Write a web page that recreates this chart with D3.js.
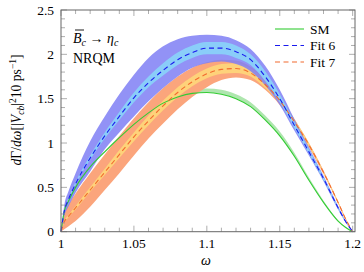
<!DOCTYPE html>
<html lang="en">
<head>
    <meta charset="UTF-8">
    <title>Bc to eta_c</title>
    <script src="https://d3js.org/d3.v7.min.js"></script>
    <style>
        body {margin: 0; background: white;}
    </style>
</head>
<body>
<script>
    const width = 364;
    const height = 272;

    // omega grid
    const w = [1.000, 1.0025, 1.005, 1.01, 1.02, 1.03, 1.04, 1.05, 1.06, 1.07, 1.08, 1.09,
               1.10, 1.11, 1.12, 1.13, 1.14, 1.15, 1.16, 1.17, 1.18, 1.19, 1.195, 1.20];

    // SM
    const sm     = [0, 0.245, 0.34, 0.50, 0.73, 0.90, 1.06, 1.21, 1.34, 1.45, 1.52, 1.56, 1.57, 1.55, 1.50, 1.41, 1.26, 1.08, 0.85, 0.58, 0.33, 0.12, 0.05, 0];
    const smHi   = [0, 0.25, 0.345, 0.505, 0.74, 0.91, 1.075, 1.23, 1.37, 1.48, 1.56, 1.60, 1.615, 1.60, 1.55, 1.46, 1.31, 1.13, 0.89, 0.61, 0.35, 0.13, 0.055, 0];

    // Fit 6
    const fit6     = [0, 0.25, 0.36, 0.54, 0.83, 1.08, 1.30, 1.51, 1.68, 1.82, 1.94, 2.02, 2.07, 2.07, 2.03, 1.94, 1.75, 1.50, 1.20, 0.90, 0.60, 0.27, 0.12, 0];
    const fit6Hi   = [0, 0.32, 0.45, 0.66, 1.02, 1.30, 1.55, 1.77, 1.96, 2.09, 2.17, 2.21, 2.22, 2.21, 2.16, 2.06, 1.87, 1.60, 1.27, 0.95, 0.63, 0.29, 0.13, 0];
    const fit6Lo   = [0, 0.19, 0.28, 0.44, 0.68, 0.93, 1.12, 1.30, 1.47, 1.62, 1.75, 1.85, 1.90, 1.92, 1.89, 1.81, 1.65, 1.43, 1.14, 0.86, 0.57, 0.25, 0.11, 0];
    const fit6InHi = [0, 0.26, 0.375, 0.56, 0.86, 1.12, 1.35, 1.57, 1.75, 1.90, 2.02, 2.10, 2.14, 2.14, 2.10, 2.00, 1.81, 1.55, 1.24, 0.93, 0.62, 0.28, 0.125, 0];
    const fit6InLo = [0, 0.24, 0.35, 0.53, 0.81, 1.05, 1.26, 1.46, 1.63, 1.76, 1.88, 1.96, 2.00, 2.00, 1.96, 1.88, 1.70, 1.46, 1.17, 0.88, 0.58, 0.26, 0.115, 0];

    // Fit 7
    const fit7     = [0, 0.12, 0.17, 0.27, 0.47, 0.67, 0.87, 1.07, 1.25, 1.42, 1.57, 1.69, 1.78, 1.83, 1.84, 1.79, 1.66, 1.48, 1.24, 0.98, 0.67, 0.33, 0.15, 0];
    const fit7Hi   = [0, 0.22, 0.30, 0.43, 0.66, 0.87, 1.08, 1.28, 1.46, 1.62, 1.75, 1.85, 1.91, 1.94, 1.93, 1.86, 1.72, 1.52, 1.27, 1.00, 0.69, 0.34, 0.16, 0];
    const fit7Lo   = [0, 0.03, 0.06, 0.12, 0.28, 0.47, 0.66, 0.86, 1.05, 1.22, 1.38, 1.52, 1.63, 1.71, 1.74, 1.71, 1.60, 1.43, 1.21, 0.95, 0.65, 0.32, 0.14, 0];
    const fit7InHi = [0, 0.13, 0.185, 0.29, 0.50, 0.71, 0.92, 1.12, 1.31, 1.48, 1.63, 1.75, 1.84, 1.89, 1.90, 1.84, 1.71, 1.52, 1.27, 1.00, 0.68, 0.34, 0.155, 0];
    const fit7InLo = [0, 0.11, 0.16, 0.25, 0.45, 0.64, 0.83, 1.02, 1.20, 1.37, 1.52, 1.64, 1.73, 1.78, 1.79, 1.75, 1.62, 1.45, 1.21, 0.96, 0.66, 0.32, 0.145, 0];

    const xTicks = [1, 1.05, 1.1, 1.15, 1.2];
    const yTicks = [0, 0.5, 1, 1.5, 2, 2.5];
    const legendNames = ["SM", "Fit 6", "Fit 7"];

    const dash = "5,3.5";

    const svg = d3.select("body").append("svg")
            .attr("width", width).attr("height", height)
            .attr("font-family", "'Liberation Serif', serif")
            .attr("font-size", 13);

    const x = d3.scaleLinear().domain([1, 1.2016]).range([61, 355]);
    const y = d3.scaleLinear().domain([0, 2.5]).range([231.7, 10]);

    const band = (lo, hi) => d3.area()
            .x((d, i) => x(w[i]))
            .y0((d, i) => y(lo[i]))
            .y1((d, i) => y(hi[i]))
            .curve(d3.curveMonotoneX)(w);

    const line = vals => d3.line()
            .x((d, i) => x(w[i]))
            .y((d, i) => y(vals[i]))
            .curve(d3.curveMonotoneX)(w);

    const plot = svg.append("g");

    // bands
    plot.append("path").attr("d", band(sm, smHi)).style("fill", "#aee6ae");
    plot.append("path").attr("d", band(fit7Lo, fit7Hi)).style("fill", "#fba57c");
    plot.append("path").attr("d", band(fit7InLo, fit7InHi)).style("fill", "#fed27a");
    plot.append("path").attr("d", band(fit6Lo, fit6Hi)).style("fill", "#7f7ff4").style("opacity", 0.85);
    plot.append("path").attr("d", band(fit6InLo, fit6InHi)).style("fill", "#8ad4fa").style("opacity", 0.9);

    // central lines
    plot.append("path").attr("d", line(sm))
            .style("fill", "none").style("stroke", "#33cc33").style("stroke-width", 1.1);
    plot.append("path").attr("d", line(fit7))
            .style("fill", "none").style("stroke", "#f26a2e").style("stroke-width", 1.1)
            .style("stroke-dasharray", dash);
    plot.append("path").attr("d", line(fit6))
            .style("fill", "none").style("stroke", "#1a1aee").style("stroke-width", 1.1)
            .style("stroke-dasharray", dash);

    // frame + ticks (inward, all four sides)
    const axes = svg.append("g");
    const minorX = d3.range(1, 1.2001, 0.01);
    const minorY = d3.range(0, 2.5001, 0.1);

    minorX.forEach(v => {
        const major = xTicks.some(t => Math.abs(t - v) < 1e-6);
        const len = major ? 6 : 4;
        axes.append("line").attr("x1", x(v)).attr("x2", x(v))
                .attr("y1", y(0)).attr("y2", y(0) - len);
        axes.append("line").attr("x1", x(v)).attr("x2", x(v))
                .attr("y1", y(2.5)).attr("y2", y(2.5) + len);
    });
    minorY.forEach(v => {
        const major = yTicks.some(t => Math.abs(t - v) < 1e-6);
        const len = major ? 6 : 4;
        axes.append("line").attr("x1", x.range()[0]).attr("x2", x.range()[0] + len)
                .attr("y1", y(v)).attr("y2", y(v));
        axes.append("line").attr("x1", x.range()[1]).attr("x2", x.range()[1] - len)
                .attr("y1", y(v)).attr("y2", y(v));
    });
    axes.selectAll("line").style("stroke", "#999").style("stroke-width", 0.8);

    axes.append("rect")
            .attr("x", x.range()[0]).attr("y", y(2.5))
            .attr("width", x.range()[1] - x.range()[0])
            .attr("height", y(0) - y(2.5))
            .style("fill", "none").style("stroke", "#666").style("stroke-width", 1);

    // tick labels
    svg.selectAll("text.xtick").data(xTicks).enter().append("text")
            .attr("class", "xtick")
            .attr("x", d => x(d)).attr("y", 247.5)
            .attr("text-anchor", "middle").attr("font-size", 13.5)
            .text(d => d);
    svg.selectAll("text.ytick").data(yTicks).enter().append("text")
            .attr("class", "ytick")
            .attr("x", 54).attr("y", d => y(d) + 4.5)
            .attr("text-anchor", "end").attr("font-size", 13.5)
            .text(d => d);

    // axis titles
    svg.append("text").attr("x", 206).attr("y", 265)
            .attr("text-anchor", "middle").attr("font-style", "italic").attr("font-size", 14)
            .text("ω");

    const yt = svg.append("text")
            .attr("transform", "translate(21,110) rotate(-90)")
            .attr("text-anchor", "middle").attr("font-size", 13.7);
    yt.append("tspan").attr("font-style", "italic").text("d");
    yt.append("tspan").text("Γ/");
    yt.append("tspan").attr("font-style", "italic").text("dω");
    yt.append("tspan").text("[|");
    yt.append("tspan").attr("font-style", "italic").text("V");
    yt.append("tspan").attr("dy", 3).attr("font-size", 9.5).attr("font-style", "italic").text("cb");
    yt.append("tspan").attr("dy", -3).text("|");
    yt.append("tspan").attr("dy", -5).attr("font-size", 9.5).text("2");
    yt.append("tspan").attr("dy", 5).text("10 ps");
    yt.append("tspan").attr("dy", -5).attr("font-size", 9.5).text("−1");
    yt.append("tspan").attr("dy", 5).text("]");

    // process annotation
    const ann = svg.append("text").attr("x", 73).attr("y", 43).attr("font-size", 14);
    ann.append("tspan").attr("font-style", "italic").text("B");
    ann.append("tspan").attr("dy", 3).attr("font-size", 10).attr("font-style", "italic").text("c");
    ann.append("tspan").attr("dy", -3).text(" → ");
    ann.append("tspan").attr("font-style", "italic").text("η");
    ann.append("tspan").attr("dy", 3).attr("font-size", 10).attr("font-style", "italic").text("c");
    // bar over B
    svg.append("line").attr("x1", 75).attr("x2", 84).attr("y1", 30).attr("y2", 30)
            .style("stroke", "black").style("stroke-width", 0.9);
    svg.append("text").attr("x", 73).attr("y", 63).attr("font-size", 14).text("NRQM");

    // legend
    const legendStyle = [
        {color: "#33cc33", dash: null},
        {color: "#1a1aee", dash: dash},
        {color: "#f26a2e", dash: dash}
    ];
    const legendY = [29, 45.5, 62];
    legendNames.forEach((name, i) => {
        svg.append("line")
                .attr("x1", 275).attr("x2", 304)
                .attr("y1", legendY[i]).attr("y2", legendY[i])
                .style("stroke", legendStyle[i].color).style("stroke-width", 1.1)
                .style("stroke-dasharray", legendStyle[i].dash);
        svg.append("text").attr("x", 310).attr("y", legendY[i] + 4.5).attr("font-size", 13.5).text(name);
    });
</script>
</body>
</html>
